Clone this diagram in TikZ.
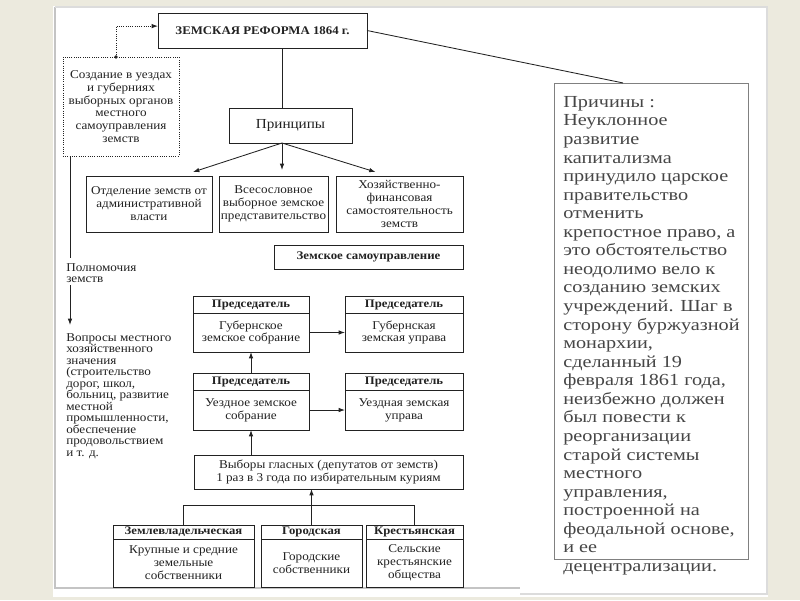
\documentclass[tikz,border=0pt]{standalone}
\usepackage{fontspec}
\setmainfont{Liberation Serif}[FakeStretch=1.1]
\newfontfamily\prichfont{Liberation Serif}[FakeStretch=1.2]
\usetikzlibrary{arrows.meta,positioning}

\definecolor{fon}{RGB}{236,234,222}
\definecolor{ramka}{RGB}{196,196,196}
\definecolor{tekst}{RGB}{34,34,34}
\definecolor{seryj}{RGB}{70,70,70}

\begin{document}
\begin{tikzpicture}[x=0.025cm, y=-0.025cm,
  box/.style={draw=tekst, line width=0.6pt, outer sep=0pt, inner sep=1pt, align=center,
    text=tekst, font=\fontsize{8.5}{9.2}\selectfont},
  hdr/.style={box, minimum height=0.425cm, font=\fontsize{8.2}{9}\selectfont\bfseries},
  arr/.style={draw=tekst, line width=0.6pt, -{Latex[length=4.5pt,width=3.2pt]}},
  svyaz/.style={draw=tekst, line width=0.6pt},
  txt/.style={align=left, inner sep=0pt, text=tekst, font=\fontsize{8.5}{8.2}\selectfont}]

  % Фон и лист
  \useasboundingbox (0,0) rectangle (800,600);
  \fill[fon] (0,0) rectangle (800,600);
  \fill[white] (53,6) rectangle (768,597);
  \draw[ramka, line width=2pt] (55,7) -- (55,588) -- (520,588);
  \draw[ramka!60, line width=1.2pt] (520,594) -- (767,594) -- (767,7) -- (55,7);

  % Заголовок
  \node[box, minimum width=5.225cm, minimum height=0.875cm,
    font=\fontsize{8.3}{9}\selectfont\bfseries] (reforma) at (262.5,30.5) {ЗЕМСКАЯ РЕФОРМА 1864 г.};

  % Создание органов (пунктир)
  \node[box, densely dotted, minimum width=2.9cm, minimum height=2.475cm,
    font=\fontsize{8.5}{9.1}\selectfont] (sozd) at (121,106.5)
    {Создание в уездах\\и губерниях\\выборных органов\\местного\\самоуправления\\земств};

  % Принципы
  \node[box, minimum width=3.075cm, minimum height=0.875cm,
    font=\fontsize{9.8}{10}\selectfont] (princ) at (290.5,125.5) {Принципы};
  \node[box, minimum width=3.15cm, minimum height=1.4cm] (otdel) at (149,204)
    {Отделение земств от\\административной\\власти};
  \node[box, minimum width=2.725cm, minimum height=1.4cm] (vsesosl) at (273.5,204)
    {Всесословное\\выборное земское\\представительство};
  \node[box, minimum width=3.175cm, minimum height=1.4cm] (hozfin) at (399.5,204)
    {Хозяйственно-\\финансовая\\самостоятельность\\земств};

  \node[box, minimum width=4.725cm, minimum height=0.6cm,
    font=\fontsize{8.3}{9}\selectfont\bfseries] (samoupr) at (368.5,257) {Земское самоуправление};

  % Собрания и управы
  \node[hdr, minimum width=2.9cm] (gubsobh) at (251,304.5) {Председатель};
  \node[box, minimum width=2.9cm, minimum height=0.975cm, below=0pt of gubsobh] (gubsob)
    {Губернское\\земское собрание};
  \node[hdr, minimum width=2.95cm] (gubuprh) at (404,304.5) {Председатель};
  \node[box, minimum width=2.95cm, minimum height=0.975cm, below=0pt of gubuprh] (gubupr)
    {Губернская\\земская управа};
  \node[hdr, minimum width=2.9cm] (uezsobh) at (251,381.5) {Председатель};
  \node[box, minimum width=2.9cm, minimum height=1cm, below=0pt of uezsobh] (uezsob)
    {Уездное земское\\собрание};
  \node[hdr, minimum width=2.95cm] (uezuprh) at (404,381.5) {Председатель};
  \node[box, minimum width=2.95cm, minimum height=1cm, below=0pt of uezuprh] (uezupr)
    {Уездная земская\\управа};

  % Выборы
  \node[box, minimum width=6.725cm, minimum height=0.85cm] (vybory) at (328.5,472)
    {Выборы гласных (депутатов от земств)\\1 раз в 3 года по избирательным куриям};

  % Курии
  \node[hdr, minimum width=3.525cm, minimum height=0.35cm] (zemlh) at (183.5,532) {Землевладельческая};
  \node[box, minimum width=3.525cm, minimum height=1.2cm, below=0pt of zemlh] (zeml)
    {Крупные и средние\\земельные\\собственники};
  \node[hdr, minimum width=2.525cm, minimum height=0.35cm] (gorh) at (311.5,532) {Городская};
  \node[box, minimum width=2.525cm, minimum height=1.2cm, below=0pt of gorh] (gor)
    {Городские\\собственники};
  \node[hdr, minimum width=2.425cm, minimum height=0.35cm] (kresth) at (414.5,532) {Крестьянская};
  \node[box, minimum width=2.425cm, minimum height=1.2cm, below=0pt of kresth] (krest)
    {Сельские\\крестьянские\\общества};

  % Полномочия
  \node[txt, anchor=north west] (polnom) at (66,263) {Полномочия\\земств};
  \node[txt, anchor=north west] (voprosy) at (66,333)
    {Вопросы местного\\хозяйственного\\значения\\(строительство\\дорог, школ,\\больниц, развитие\\местной\\промышленности,\\обеспечение\\продовольствием\\и т. д.};

  % Причины
  \node[draw=gray, line width=0.6pt, outer sep=0pt, minimum width=4.85cm, minimum height=11.9cm]
    (prich) at (651,321) {};
  \node[anchor=north west, align=left, inner sep=0pt, text=seryj,
    font=\prichfont\fontsize{12}{13.2}\selectfont] (prichtxt) at (563,96)
    {Причины :\\Неуклонное\\развитие\\капитализма\\принудило царское\\правительство\\отменить\\крепостное право, а\\это обстоятельство\\неодолимо вело к\\созданию земских\\учреждений. Шаг в\\сторону буржуазной\\монархии,\\сделанный 19\\февраля 1861 года,\\неизбежно должен\\был повести к\\реорганизации\\старой системы\\местного\\управления,\\построенной на\\феодальной основе,\\и ее\\децентрализации.};

  % Связи
  \coordinate (lx) at (70,0);
  \coordinate (px) at (282,0);
  \coordinate (shina) at (0,505);

  \draw[svyaz] (reforma.east) -- ([xshift=-0.7cm]prich.north);
  \fill[tekst] ([xshift=-0.125cm]sozd.north) circle (1.3pt);
  \draw[arr, densely dotted] ([xshift=-0.125cm]sozd.north) |- ([yshift=0.11cm]reforma.west);
  \draw[svyaz] (sozd.south -| lx) -- ([yshift=0.125cm]polnom.north -| lx);
  \draw[arr] ([yshift=-0.05cm]polnom.south -| lx) -- ([yshift=0.2cm]voprosy.north -| lx);

  \draw[svyaz] (reforma.south -| px) -- (princ.north -| px);
  \draw[arr] (princ.south -| px) -- ([xshift=1.1cm,yshift=0.1cm]otdel.north);
  \draw[arr] (princ.south -| px) -- ([yshift=0.15cm]vsesosl.north -| px);
  \draw[arr] (princ.south -| px) -- ([xshift=-0.6cm,yshift=0.1cm]hozfin.north);

  \draw[arr] (gubsob.east) -- (gubupr.west);
  \draw[arr] (uezsob.east) -- (uezupr.west);
  \draw[arr] (uezsobh.north) -- (gubsob.south);
  \draw[arr] (vybory.north -| uezsob.south) -- (uezsob.south);
  \draw[arr] (gorh.north) -- (vybory.south -| gorh.north);
  \draw[svyaz] (zemlh.north) |- (shina -| kresth.north) -- (kresth.north);
\end{tikzpicture}
\end{document}
